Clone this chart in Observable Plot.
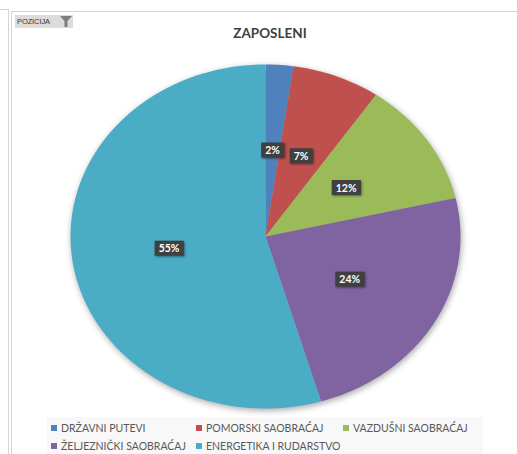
<!DOCTYPE html>
<html>
<head>
<meta charset="utf-8">
<script src="https://cdn.jsdelivr.net/npm/d3@7"></script>
<script src="https://cdn.jsdelivr.net/npm/@observablehq/plot@0.6"></script>
<style>
  html, body { margin: 0; padding: 0; background: #fff; overflow: hidden; }
  #root { position: relative; width: 517px; height: 454px; font-family: Lato, "Open Sans", sans-serif; }
  .hline { position: absolute; height: 1px; background: #d4d4d4; }
  .vline { position: absolute; width: 1px; background: #d4d4d4; }
  #btn { position: absolute; left: 15px; top: 15px; width: 58px; height: 13px; background: #dcdcdc; }
  #btn span { position: absolute; left: 2px; top: 2px; font-size: 7.5px; color: #333; letter-spacing: -0.1px; font-family: "Liberation Sans", sans-serif; }
  #btn svg { position: absolute; left: 45px; top: 1px; }
  #title { position: absolute; left: 0; width: 540px; top: 25px; text-align: center; font-weight: bold; font-size: 13.5px; color: #404040; }
  #plot { position: absolute; left: 0; top: 0; }
  #legend { position: absolute; left: 47px; top: 417px; width: 436px; height: 37px; background: #f8f8f8; }
  .item { position: absolute; font-size: 10.5px; color: #595959; white-space: nowrap; line-height: 12px; }
  .item i { display: inline-block; width: 6px; height: 6px; margin-right: 4px; vertical-align: 1px; }
</style>
</head>
<body>
<div id="root">
  <div class="hline" style="left:0;top:9px;width:8px"></div>
  <div class="hline" style="left:11px;top:11px;width:506px"></div>
  <div class="vline" style="left:8px;top:9px;height:445px"></div>
  <div class="vline" style="left:11px;top:11px;height:443px"></div>
  <div id="btn"><span>POZICIJA</span>
    <svg width="12" height="11" viewBox="0 0 12 11"><path d="M0,0 H12 L7.5,5 V11 H4.5 V5 Z" fill="#7f7f7f"/></svg>
  </div>
  <div id="plot"></div>
  <div id="title">ZAPOSLENI</div>
  <div id="legend"></div>
</div>
<script>
const names = ["DRŽAVNI PUTEVI", "POMORSKI SAOBRAĆAJ", "VAZDUŠNI SAOBRAĆAJ", "ŽELJEZNIČKI SAOBRAĆAJ", "ENERGETIKA I RUDARSTVO"];
const values = [2.3, 7.3, 11.8, 24.0, 54.6];
const colors = ["#4F81BD", "#C0504D", "#9BBB59", "#8064A2", "#4BACC6"];
const chartTitle = "ZAPOSLENI";

const total = d3.sum(values);
const arcs = d3.pie().sort(null).value(d => d)(values);

// slice outlines in unit-circle data space (0 angle at 12 o'clock, clockwise)
const slicePts = [];
arcs.forEach((a, i) => {
  const n = Math.max(2, Math.ceil((a.endAngle - a.startAngle) / (2 * Math.PI) * 360));
  slicePts.push({name: names[i], x: 0, y: 0});
  for (let k = 0; k <= n; k++) {
    const t = a.startAngle + (a.endAngle - a.startAngle) * k / n;
    slicePts.push({name: names[i], x: Math.sin(t), y: Math.cos(t)});
  }
  slicePts.push({name: names[i], x: 0, y: 0});
});

const labels = arcs.map((a, i) => {
  const m = (a.startAngle + a.endAngle) / 2;
  return {name: names[i], x: 0.5 * Math.sin(m), y: 0.5 * Math.cos(m), text: Math.round(values[i] / total * 100) + "%"};
});

const plot = Plot.plot({
  width: 517, height: 454,
  marginLeft: 70, marginRight: 57, marginTop: 64, marginBottom: 46,
  x: {domain: [-1, 1], axis: null},
  y: {domain: [-1, 1], axis: null},
  color: {domain: names, range: colors},
  style: {background: "transparent", overflow: "visible"},
  marks: [
    Plot.line(slicePts, {x: "x", y: "y", z: "name", fill: "name", stroke: "none"}),
    Plot.text(labels, {x: "x", y: "y", text: "text", fill: "white", fontWeight: "bold", fontSize: 10.5, fontFamily: "Lato, sans-serif"})
  ]
});
document.getElementById("plot").appendChild(plot);

// soft shadow on the pie
const lineG = plot.querySelector('g[aria-label="line"]');
if (lineG) lineG.style.filter = "drop-shadow(1px 2px 3px rgba(0,0,0,0.35))";

// dark boxes behind data labels
const textG = plot.querySelector('g[aria-label="text"]');
if (textG) {
  textG.querySelectorAll("text").forEach(t => {
    const b = t.getBBox();
    const r = document.createElementNS("http://www.w3.org/2000/svg", "rect");
    const tr = t.getAttribute("transform");
    r.setAttribute("x", b.x - 4);
    r.setAttribute("y", b.y - 1.5);
    r.setAttribute("width", b.width + 8);
    r.setAttribute("height", b.height + 3);
    r.setAttribute("fill", "#404040");
    if (tr) r.setAttribute("transform", tr);
    r.style.filter = "drop-shadow(1.5px 1.5px 1px rgba(0,0,0,0.45))";
    textG.insertBefore(r, t);
  });
}

document.getElementById("title").textContent = chartTitle;

// legend
const legend = document.getElementById("legend");
const pos = [[4, 5], [149, 5], [296, 5], [4, 23], [149, 23]];
names.forEach((n, i) => {
  const d = document.createElement("div");
  d.className = "item";
  d.style.left = pos[i][0] + "px";
  d.style.top = pos[i][1] + "px";
  d.innerHTML = `<i style="background:${colors[i]}"></i>${n}`;
  legend.appendChild(d);
});
</script>
</body>
</html>
